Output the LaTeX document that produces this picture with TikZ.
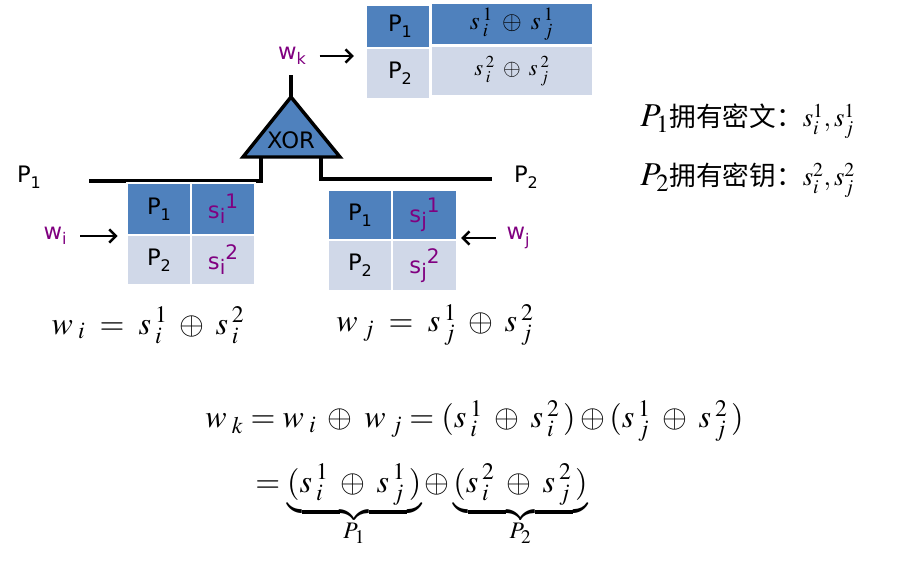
\documentclass[tikz,border=0pt]{standalone}
\usepackage{mathptmx}
\usepackage[no-math]{fontspec}
\setmainfont{Liberation Serif}
\setsansfont{DejaVu Sans}
\newfontfamily\cjk{Noto Sans CJK SC}
\usetikzlibrary{arrows.meta}
\definecolor{cellblue}{HTML}{4F81BD}
\definecolor{celllight}{HTML}{D0D8E8}
\definecolor{wirepurple}{HTML}{800080}
\newcommand{\pidx}[2]{#1\raisebox{-0.45ex}{\fontsize{12}{12}\selectfont #2}}
\newcommand{\share}[3]{#1\raisebox{-0.4ex}{\fontsize{15}{15}\selectfont #2}\raisebox{0.8ex}{\fontsize{15}{15}\selectfont #3}}
\newcommand{\ms}[3]{#1_{\mkern3mu#2}^{\mkern3mu#3}}
\newcommand{\mw}[2]{#1_{\mkern4mu#2}}
\newcommand{\xo}{\;\oplus\;}
\begin{document}
\begin{tikzpicture}[x=0.75pt,y=-0.75pt,
    cell/.style={draw=white,line width=2.2pt,inner sep=0pt,
      font=\sffamily\fontsize{17}{17}\selectfont},
    dark/.style={cell,fill=cellblue},
    light/.style={cell,fill=celllight},
    lbl/.style={font=\sffamily\fontsize{17}{17}\selectfont,inner sep=2pt},
    wlbl/.style={lbl,text=wirepurple},
    wire/.style={line width=2.6pt},
    arrow/.style={line width=1.8pt,-{Straight Barb[length=5pt,width=10pt]}},
    eqn/.style={font=\fontsize{24}{28}\selectfont,inner sep=0pt}]
\useasboundingbox (0,0) rectangle (922,566);
% top table
\node[dark,minimum width=51pt,minimum height=32.25pt] (t11) at (400,26.5) {\pidx{P}{1}};
\node[dark,minimum width=122.6pt,minimum height=32.25pt,font=\fontsize{19}{19}\selectfont] (t12) at (512,24) {$\ms{s}{i}{1} \xo \ms{s}{j}{1}$};
\node[light,minimum width=51pt,minimum height=38.25pt] (t21) at (400,73.5) {\pidx{P}{2}};
\node[light,minimum width=122.6pt,minimum height=38.25pt,font=\fontsize{17}{17}\selectfont] (t22) at (512,71) {$\ms{s}{i}{2} \xo \ms{s}{j}{2}$};
% gate
\coordinate (gateTop) at (291,97);
\coordinate (gateL) at (243,157);
\coordinate (gateR) at (340,157);
\coordinate (outTop) at (291,75);
\draw[wire,fill=cellblue,line join=miter] (gateL) -- (gateTop) -- (gateR) -- cycle;
\node[lbl] (xor) at (291,140) {XOR};
\draw[wire] (gateTop) -- (outTop);
\node[wlbl] (wk) at (292,56) {\pidx{w}{k}};
\draw[arrow,shorten <=8pt,shorten >=8pt] (wk) -- (wk -| t21.west);
% wires
\coordinate (stemL) at (261,157);
\coordinate (stemR) at (321,157);
\coordinate (endL) at (89,181);
\coordinate (endR) at (492,179);
\draw[wire] (stemL) |- (endL);
\draw[wire] (stemR) |- (endR);
\node[lbl] (p1) at (29,177) {\pidx{P}{1}};
\node[lbl] (p2) at (526,177) {\pidx{P}{2}};
% left table
\node[dark,minimum width=48pt,minimum height=39pt] (l11) at (159,209) {\raisebox{3pt}{\pidx{P}{1}}};
\node[dark,minimum width=48pt,minimum height=39pt,text=wirepurple] (l12) at (223,209) {\share{s}{i}{1}};
\node[light,minimum width=48pt,minimum height=37.5pt] (l21) at (159,260) {\pidx{P}{2}};
\node[light,minimum width=48pt,minimum height=37.5pt,text=wirepurple] (l22) at (223,260) {\share{s}{i}{2}};
\node[wlbl] (wi) at (55,236) {\pidx{w}{i}};
\draw[arrow,shorten <=8pt,shorten >=6pt] (wi) -- (wi -| l21.west);
% right table
\node[dark,minimum width=48pt,minimum height=37.5pt] (r11) at (360,215) {\raisebox{3pt}{\pidx{P}{1}}};
\node[dark,minimum width=48.75pt,minimum height=37.5pt,text=wirepurple] (r12) at (424.5,215) {\share{s}{j}{1}};
\node[light,minimum width=48pt,minimum height=38.25pt] (r21) at (360,265.5) {\pidx{P}{2}};
\node[light,minimum width=48.75pt,minimum height=38.25pt,text=wirepurple] (r22) at (424.5,265.5) {\share{s}{j}{2}};
\node[wlbl] (wj) at (518,238) {\pidx{w}{j}};
\draw[arrow,shorten <=6pt,shorten >=2pt] (wj) -- (wj -| r22.east);
% share equations
\node[eqn] (eqi) at (148,325) {$\mw{w}{i} \;=\; \ms{s}{i}{1} \xo \ms{s}{i}{2}$};
\node[eqn] (eqj) at (435,325) {$\mw{w}{j} \;=\; \ms{s}{j}{1} \xo \ms{s}{j}{2}$};
% who holds what
\node[anchor=base west,inner sep=0pt,font=\fontsize{25}{28}\selectfont] (hold1) at (640,127)
  {$P_1$\cjk\fontsize{20}{24}\selectfont 拥有密文：$s_i^1,s_j^1$};
\node[anchor=base west,inner sep=0pt,font=\fontsize{25}{28}\selectfont] (hold2) at (640,186)
  {$P_2$\cjk\fontsize{20}{24}\selectfont 拥有密钥：$s_i^2,s_j^2$};
% result
\node[eqn,anchor=base west] (res1) at (205,428)
  {$\mw{w}{k} = \mw{w}{i} \xo \mw{w}{j} = (\ms{s}{i}{1} \xo \ms{s}{i}{2}\,) \oplus (\ms{s}{j}{1} \xo \ms{s}{j}{2}\,)$};
\node[eqn,anchor=base west] (res2) at (255,493)
  {$= \underbrace{(\ms{s}{i}{1} \xo \ms{s}{j}{1}\,)}_{P_1} \oplus \underbrace{(\ms{s}{i}{2} \xo \ms{s}{j}{2}\,)}_{P_2}$};
\end{tikzpicture}
\end{document}
